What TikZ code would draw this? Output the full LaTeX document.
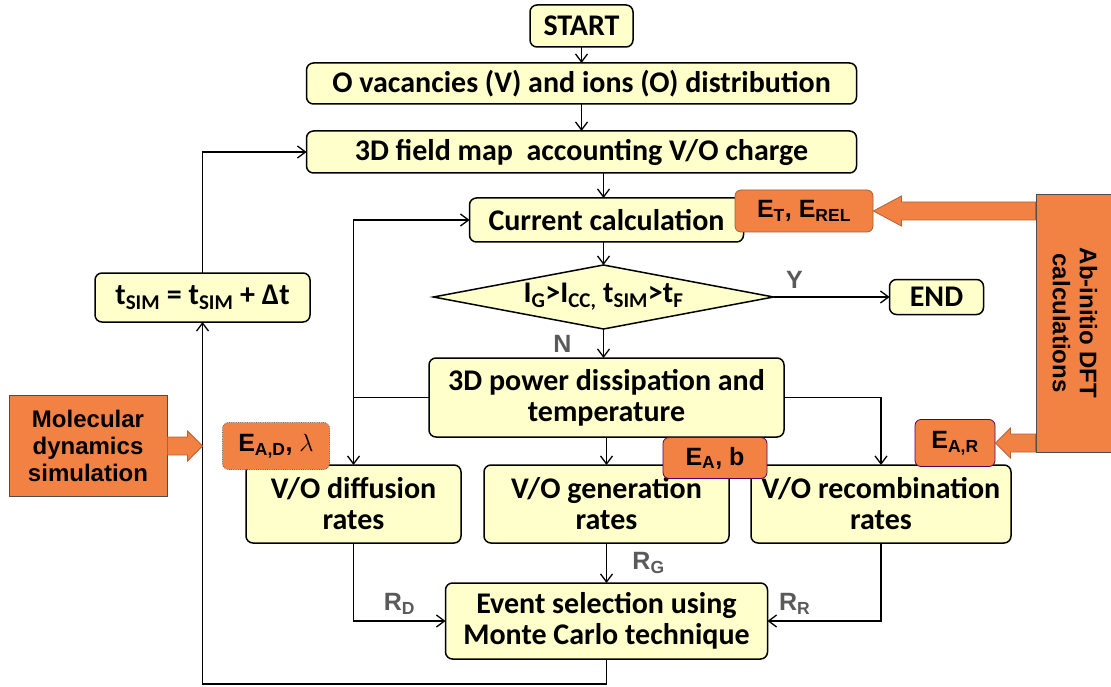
\documentclass[tikz,border=0pt]{standalone}
\usepackage{fontspec}
\setmainfont{Carlito}
\newfontfamily\arialfont{Liberation Sans}
\usetikzlibrary{arrows.meta,positioning,shapes.geometric,calc}

\definecolor{boxyellow}{RGB}{255,255,204}
\definecolor{tagorange}{RGB}{242,130,68}
\definecolor{labelgray}{RGB}{90,90,90}

% wide orange arrow, horizontal: tail, tip, signed head length
\newcommand\blockarrow[3]{%
  \draw[fat] let \p1=(#1), \p2=(#2) in
    (\x1,\y1+9pt) -- ({\x2-(#3)},\y1+9pt) -- ({\x2-(#3)},\y1+15pt) -- (\x2,\y1)
    -- ({\x2-(#3)},\y1-15pt) -- ({\x2-(#3)},\y1-9pt) -- (\x1,\y1-9pt) -- cycle;}

\begin{document}
\begin{tikzpicture}[
  x=1pt, y=1pt,
  font=\fontsize{30}{31}\selectfont\bfseries,
  >={Straight Barb[length=8pt,width=12pt]},
  box/.style={draw, fill=boxyellow, rounded corners=7pt, line width=1.5pt,
    align=center, inner sep=2pt, outer sep=0pt},
  tag/.style={draw=#1, fill=tagorange, rounded corners=6pt, line width=0.8pt,
    inner sep=2pt, font=\arialfont\fontsize{25}{28}\selectfont\bfseries},
  tag/.default=tagorange!70!black,
  src/.style={draw=black!70, fill=tagorange, line width=0.8pt, align=center,
    inner sep=2pt, font=\arialfont\fontsize{24}{27}\selectfont\bfseries},
  flow/.style={->, line width=1.3pt},
  lbl/.style={text=labelgray, font=\arialfont\fontsize{25}{28}\selectfont\bfseries},
  fat/.style={draw=tagorange!75!black, fill=tagorange, line width=0.8pt}
]
\useasboundingbox (0,0) rectangle (1111,-687);

% main column
\node[box, minimum width=103pt, minimum height=42pt] (start) at (581.5,-26) {START};
\node[box, minimum width=550pt, minimum height=41pt, below=16pt of start] (vac)
  {O vacancies (V) and ions (O) distribution};
\node[box, minimum width=550pt, minimum height=42pt, below=27pt of vac] (field)
  {3D field map\ \ accounting V/O charge};
\node[box, minimum width=274pt, minimum height=44pt, below=25pt of field, xshift=25pt] (current)
  {Current calculation};
\node[box, diamond, sharp corners, aspect=5.3, inner sep=0pt, minimum width=340pt,
  minimum height=64pt, below=23pt of current, xshift=-3pt] (test)
  {I\textsubscript{G}>I\textsubscript{CC,} t\textsubscript{SIM}>t\textsubscript{F}};
\node[box, minimum width=94pt, minimum height=35pt, right=116pt of test] (end) {END};
\node[box, minimum width=355pt, minimum height=79pt, below=29pt of test, xshift=3pt] (power)
  {3D power dissipation and\\temperature};
\node[box, minimum width=245pt, minimum height=78pt, below=28pt of power] (gen)
  {V/O generation\\rates};
\node[box, minimum width=215pt, minimum height=78pt, left=23pt of gen] (diff)
  {V/O diffusion\\rates};
\node[box, minimum width=260pt, minimum height=78pt, right=22pt of gen] (recomb)
  {V/O recombination\\rates};
\node[box, minimum width=322pt, minimum height=76pt, below=40pt of gen] (event)
  {Event selection using\\Monte Carlo technique};
\node[box, minimum width=215pt, minimum height=49pt] (tsim) at (202.5,-297.5)
  {t\textsubscript{SIM} = t\textsubscript{SIM} + Δt};

% external inputs
\node[src, minimum width=158pt, minimum height=101pt] (md) at (88,-446)
  {Molecular\\dynamics\\simulation};
\node[src, rotate=-90, minimum width=258pt, minimum height=78pt] (dft) at (1075,-323)
  {Ab-initio DFT\\calculations};

% connectors
\draw[flow] (start) -- (vac);
\draw[flow] (vac) -- (field);
\draw[flow] (field.south -| test.north) -- (test.north |- current.north);
\draw[flow] (current.south -| test.north) -- (test.north);
\draw[flow] (test) -- node[lbl, above=5pt, pos=0.18] {Y} (end);
\draw[flow] (test.south) -- node[lbl, left=28pt] {N} (test.south |- power.north);
\draw[flow] (power.west -| diff.north) |- (current.west);
\draw[flow] (power.west) -| (diff.north);
\draw[flow] (power.east) -| (recomb.north);
\draw[flow] (power) -- (gen);
\draw[flow] (diff.south) |- node[lbl, above=3pt, pos=0.75] {R\textsubscript{D}} (event.west);
\draw[flow] (gen) -- node[lbl, right=22pt] {R\textsubscript{G}} (event);
\draw[flow] (recomb.south) |- node[lbl, above=3pt, pos=0.88] {R\textsubscript{R}} (event.east);
\draw[flow] (event.south) -- ++(0,-25pt) -| (tsim.south);
\draw[flow] (tsim.north) |- (field.west);

% parameter tags
\node[tag, minimum width=138pt, minimum height=42pt] (et) at (804,-211)
  {E\textsubscript{T}, E\textsubscript{REL}};
\node[tag=black!60, densely dotted, minimum width=107pt, minimum height=47pt] (ead) at (276,-446)
  {E\textsubscript{A,D}, $\lambda$};
\node[tag=violet!70!black, minimum width=104pt, minimum height=41pt] (eab) at (715,-458)
  {E\textsubscript{A}, b};
\node[tag=violet!70!black, minimum width=80pt, minimum height=47pt] (ear) at (955,-443)
  {E\textsubscript{A,R}};

\blockarrow{md.east}{tsim.south |- md.east}{15pt}
\blockarrow{et.east -| dft.south}{et.east}{-28pt}
\blockarrow{ear.east -| dft.south}{ear.east}{-15pt}

\end{tikzpicture}
\end{document}
